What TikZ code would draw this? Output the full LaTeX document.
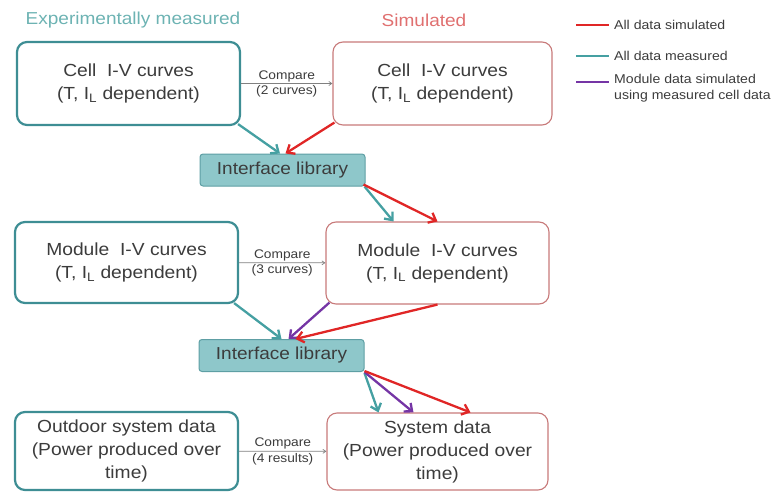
\documentclass[tikz,border=0pt]{standalone}
\usepackage{fontspec}
\setmainfont{Liberation Sans}[FakeStretch=1.1]
\usetikzlibrary{arrows.meta,calc}
\definecolor{tealB}{HTML}{3E8E94}
\definecolor{tealA}{HTML}{45A0A2}
\definecolor{tealT}{HTML}{6DB3B3}
\definecolor{redB}{HTML}{C87A7A}
\definecolor{redA}{HTML}{E02626}
\definecolor{redT}{HTML}{E07070}
\definecolor{purA}{HTML}{7535A5}
\definecolor{libF}{HTML}{8EC7CA}
\definecolor{libB}{HTML}{5E9FA4}
\definecolor{txt}{HTML}{3C3C3C}
\begin{document}
\begin{tikzpicture}[x=1pt,y=-1pt,
  boxbase/.style={rounded corners=10pt, fill=white, align=center, text=txt,
    font=\fontsize{17.5}{23}\selectfont, inner sep=0pt},
  mbox/.style={boxbase, draw=tealB, line width=2.2pt},
  sbox/.style={boxbase, draw=redB, line width=1.1pt},
  lib/.style={draw=libB, fill=libF, line width=1pt, rounded corners=3pt,
    minimum width=165pt, minimum height=32pt, text=txt,
    font=\fontsize{17.3}{20}\selectfont},
  arr/.style={line width=2.3pt, -{Straight Barb[length=6.5pt,width=11pt]}},
  cmp/.style={draw=gray, line width=0.7pt, -{Straight Barb[length=3pt,width=4pt]}},
  cmplbl/.style={font=\fontsize{12.5}{14}\selectfont, text=txt, inner sep=1.5pt},
  title/.style={font=\fontsize{17.3}{20}\selectfont},
  leg/.style={anchor=west, font=\fontsize{12.8}{16}\selectfont, text=txt, inner sep=0pt, align=left}
]
\useasboundingbox (0,0) rectangle (773,492);

% titles
\node[title, text=tealT] (t1) at (133,20) {Experimentally measured};
\node[title, text=redT] (t2) at (424,20) {Simulated};

% boxes
\node[mbox, minimum width=223pt, minimum height=83pt] (c1) at (128.5,83.5)
  {Cell~~I-V curves\\(T, I\textsubscript{L} dependent)};
\node[sbox, minimum width=219pt, minimum height=83pt] (c2) at (442.5,83.5)
  {Cell~~I-V curves\\(T, I\textsubscript{L} dependent)};
\node[lib] (il1) at (282.5,170) {Interface library};
\node[mbox, minimum width=223pt, minimum height=81pt] (m1) at (126.5,262.5)
  {Module~~I-V curves\\(T, I\textsubscript{L} dependent)};
\node[sbox, minimum width=223pt, minimum height=82pt] (m2) at (437.5,263)
  {Module~~I-V curves\\(T, I\textsubscript{L} dependent)};
\node[lib] (il2) at (281.5,355.5) {Interface library};
\node[mbox, minimum width=223pt, minimum height=78pt] (s1) at (126.5,451)
  {Outdoor system data\\(Power produced over\\time)};
\node[sbox, minimum width=221pt, minimum height=77pt] (s2) at (437.5,451.5)
  {System data\\(Power produced over\\time)};

% compare arrows
\draw[cmp] (c1) -- node[cmplbl, above]{Compare} node[cmplbl, below]{(2 curves)} (c2);
\draw[cmp] (m1) -- node[cmplbl, above]{Compare} node[cmplbl, below]{(3 curves)} (m2);
\draw[cmp] (s1) -- node[cmplbl, above]{Compare} node[cmplbl, below]{(4 results)} (s2);

% flow arrows
\draw[arr, tealA] ($(c1.south east)+(-3,-2)$) -- ($(il1.north)+(-2.5,0)$);
\draw[arr, redA] ($(c2.south west)+(2,-3)$) -- ($(il1.north)+(3,0)$);
\draw[arr, tealA] ($(il1.south east)+(-1,0)$) -- ($(m2.north)+(-44,0)$);
\draw[arr, redA] ($(il1.south east)+(-2,-2)$) -- (m2.north);
\draw[arr, tealA] ($(m1.south east)+(-5,-1)$) -- (il2.north);
\draw[arr, purA] ($(m2.south west)+(4,-2)$) -- ($(il2.north)+(7,0)$);
\draw[arr, redA] (m2.south) -- ($(il2.north)+(14,0)$);
\draw[arr, tealA] ($(il2.south east)+(0,1)$) -- ($(s2.north)+(-59,0)$);
\draw[arr, purA] ($(il2.south east)+(0,0)$) -- ($(s2.north)+(-24,0)$);
\draw[arr, redA] ($(il2.south east)+(0,-1)$) -- ($(s2.north)+(33,0)$);

% legend
\node[leg] (l1) at (614,25) {All data simulated};
\node[leg] (l2) at (614,56) {All data measured};
\node[leg, anchor=north west] (l3) at (614,74) {Module data simulated\\using measured cell data};
\draw[redA, line width=2pt] ($(l1.west)+(-38,0)$) -- ($(l1.west)+(-5,0)$);
\draw[tealA, line width=2pt] ($(l2.west)+(-38,0)$) -- ($(l2.west)+(-5,0)$);
\draw[purA, line width=2pt] ($(l3.north west)+(-38,8)$) -- ($(l3.north west)+(-5,8)$);
\end{tikzpicture}
\end{document}
